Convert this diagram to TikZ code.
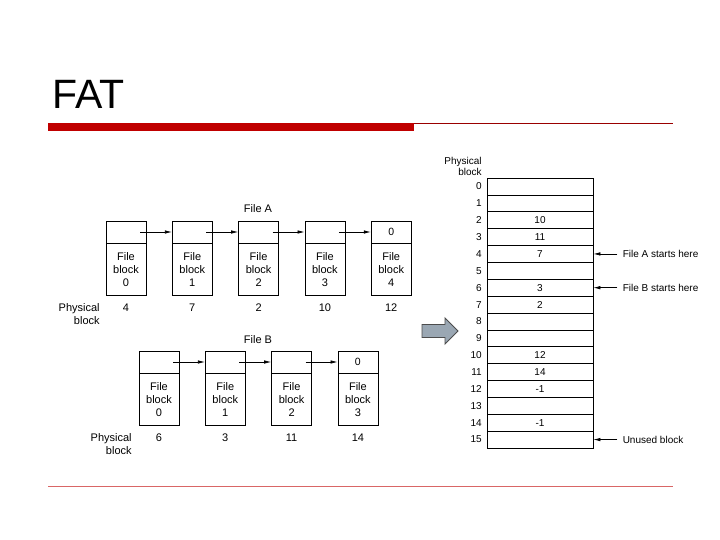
\documentclass[tikz,border=0pt]{standalone}
\usepackage{fontspec}
\setmainfont{Liberation Sans}
\usetikzlibrary{positioning, calc, arrows.meta}

\definecolor{slidered}{HTML}{C00000}
\definecolor{arrowgray}{HTML}{9AA7B3}

\tikzset{
  ptrbox/.style={draw, minimum width=40pt, minimum height=22pt, inner sep=0pt, font=\fontsize{10.5}{12}\selectfont},
  databox/.style={draw, minimum width=40pt, minimum height=52pt, inner sep=0pt, align=center, font=\fontsize{11}{13}\selectfont},
  lbl/.style={inner sep=0pt, font=\fontsize{11}{13}\selectfont},
  fatrow/.style={draw, minimum width=106pt, minimum height=16.875pt, inner sep=0pt, font=\fontsize{10}{11}\selectfont},
  small/.style={inner sep=0pt, font=\fontsize{10}{11.5}\selectfont},
  link/.style={-{Latex[length=7pt,width=3.5pt]}, line width=0.7pt},
}

\begin{document}
\begin{tikzpicture}[x=1pt, y=-1pt, line width=0.75pt]
\useasboundingbox (0,0) rectangle (720,540);

% Title and rules
\node[anchor=base west, inner sep=0pt, font=\fontsize{41}{41}\selectfont] (title) at (52,109) {FAT};
\fill[slidered] (48,123) rectangle (414,131);
\draw[slidered!80!black, line width=0.8pt] (414,123.4) -- (673,123.4);
\draw[slidered!60, line width=0.8pt] (48,486) -- (673,486);

% File A
\node[lbl] (fileA) at (258,209) {File A};
\foreach \i/\p/\n in {0/4/{},1/7/{},2/2/{},3/10/{},4/12/0} {
  \node[ptrbox] (at\i) at ({126+66.3*\i},232) {\n};
  \node[databox, below=0pt of at\i] (ab\i) {File\\block\\\i};
  \node[lbl] (pa\i) at ({126+66.3*\i},308) {\p};
}
\foreach \i [evaluate=\i as \j using int(\i+1)] in {0,...,3}
  \draw[link] ($(at\i.center)+(14,0)$) -- (at\j.west);
\node[lbl, align=right, anchor=north east] (physA) at (100,303) {Physical\\block};

% File B
\node[lbl] (fileB) at (258,340) {File B};
\foreach \i/\p/\n in {0/6/{},1/3/{},2/11/{},3/14/0} {
  \node[ptrbox] (bt\i) at ({159+66.3*\i},362) {\n};
  \node[databox, below=0pt of bt\i] (bb\i) {File\\block\\\i};
  \node[lbl] (pb\i) at ({159+66.3*\i},438) {\p};
}
\foreach \i [evaluate=\i as \j using int(\i+1)] in {0,...,2}
  \draw[link] ($(bt\i.center)+(14,0)$) -- (bt\j.west);
\node[lbl, align=right, anchor=north east] (physB) at (132,433) {Physical\\block};

% Big arrow
\draw[black!70, fill=arrowgray, line width=0.9pt, line join=miter]
  (422,324.5) -- (445,324.5) -- (445,318) -- (458,331) -- (445,344) -- (445,337.5) -- (422,337.5) -- cycle;

% FAT table
\node[small, align=right, anchor=south east] (physT) at (482,176) {Physical\\block};
\foreach \i/\v in {0/{},1/{},2/10,3/11,4/7,5/{},6/3,7/2,8/{},9/{},10/12,11/14,12/-1,13/{},14/-1,15/{}} {
  \node[fatrow] (r\i) at (540,{186.44+16.875*\i}) {\v};
  \node[small, anchor=east] (n\i) at (482,{186.44+16.875*\i}) {\i};
}

% Start markers
\coordinate (sA) at ($(r4.east)+(24,0)$);
\draw[link] (sA) -- (r4.east);
\node[small, anchor=west] (txtA) at ($(sA)+(5,0)$) {File A starts here};
\coordinate (sB) at ($(r6.east)+(24,0)$);
\draw[link] (sB) -- (r6.east);
\node[small, anchor=west] (txtB) at ($(sB)+(5,0)$) {File B starts here};
\coordinate (sU) at ($(r15.east)+(24,0)$);
\draw[link] (sU) -- (r15.east);
\node[small, anchor=west] (txtU) at ($(sU)+(5,0)$) {Unused block};
\end{tikzpicture}
\end{document}
